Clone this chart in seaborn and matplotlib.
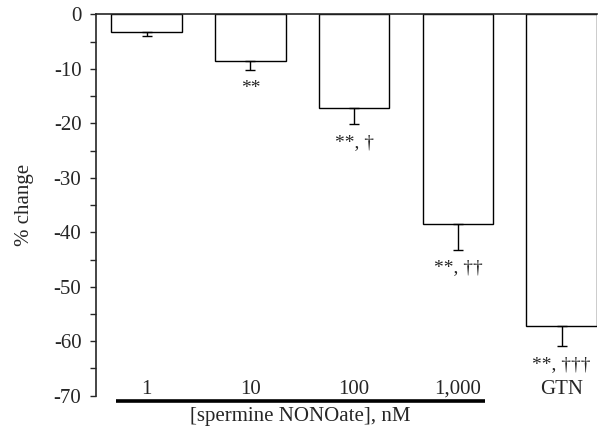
import matplotlib
matplotlib.use("Agg")
import matplotlib.pyplot as plt
from matplotlib.ticker import MultipleLocator
import seaborn as sns

# Data
categories = ["1", "10", "100", "1,000", "GTN"]
values = [-3.3, -8.5, -17.2, -38.5, -57.2]
errors = [0.7, 1.8, 3.0, 4.7, 3.7]
marks = ["", "**", "**, \u2020", "**, \u2020\u2020", "**, \u2020\u2020\u2020"]
group_label = "[spermine NONOate], nM"

sns.set_style("ticks")
plt.rcParams["font.family"] = ["Liberation Serif", "DejaVu Serif"]
plt.rcParams["axes.unicode_minus"] = False

fig = plt.figure(figsize=(6.05, 4.34), dpi=100)
ax = fig.add_axes([0.1587, 0.0882, 0.8281, 0.8788])

sns.barplot(x=categories, y=values, color="white", edgecolor="black",
            linewidth=1.0, width=0.68, ax=ax)
xs = list(range(len(categories)))
zeros = [0] * len(errors)
ax.errorbar(xs, values, yerr=[errors, zeros], fmt="none", ecolor="black",
            elinewidth=1.0, capsize=3.6, capthick=1.0)

# significance marks below the error bars
for x, v, e, m in zip(xs, values, errors, marks):
    if m:
        ax.annotate(m, (x, v - e), xytext=(0, -7), textcoords="offset points",
                    ha="center", va="top", fontsize=14)

ax.set_ylim(-70, 0)
ax.set_xlim(-0.487, 4.34)
ax.yaxis.set_major_locator(MultipleLocator(10))
ax.yaxis.set_minor_locator(MultipleLocator(5))
ax.tick_params(axis="y", which="both", direction="out", length=4.5, width=1.0,
               labelsize=15, pad=6)
ax.tick_params(axis="x", length=0, labelbottom=False)

for side in ["right", "bottom"]:
    ax.spines[side].set_visible(False)
ax.spines["top"].set_linewidth(1.2)
ax.spines["left"].set_linewidth(1.2)

ax.set_ylabel("% change", fontsize=15, labelpad=14)
ax.set_xlabel("")

# category labels inside the axes at the bottom
for x, c in zip(xs, categories):
    ax.text(x, -69.6, c, ha="center", va="baseline", fontsize=15)

# group bar under the NONOate concentrations
ax.plot([-0.294, 3.258], [-70.9, -70.9], color="black", lw=2.6,
        clip_on=False, solid_capstyle="butt")
ax.text(1.48, -73.9, group_label, ha="center", va="center", fontsize=15)

fig.savefig("out.png", dpi=100)
